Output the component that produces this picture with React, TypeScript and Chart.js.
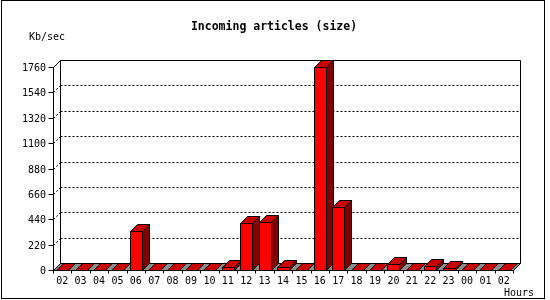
import React, { useEffect, useRef } from "react";
import { Chart, registerables } from "chart.js";

Chart.register(...registerables);

// ---- data ----
const hours = ["02", "03", "04", "05", "06", "07", "08", "09", "10", "11", "12", "13", "14", "15", "16", "17", "18", "19", "20", "21", "22", "23", "00", "01", "02"];
const kbPerSec = [0, 0, 0, 0, 335, 0, 0, 0, 0, 25, 405, 416, 25, 0, 1758, 543, 0, 0, 49, 0, 35, 17, 0, 0, 0];
const yTicks = [0, 220, 440, 660, 880, 1100, 1320, 1540, 1760];
const titleText = "Incoming articles (size)";
const yUnit = "Kb/sec";
const xUnit = "Hours";

const DX = 7;
const DY = -7;

const FRONT = "#ff0000";
const TOP = "#c80000";
const SIDE = "#800000";
const FLOOR = "#8c8c8c";

function poly(ctx: CanvasRenderingContext2D, pts: number[][], fill: string) {
  ctx.beginPath();
  ctx.moveTo(pts[0][0] + 0.5, pts[0][1] + 0.5);
  for (let i = 1; i < pts.length; i++) ctx.lineTo(pts[i][0] + 0.5, pts[i][1] + 0.5);
  ctx.closePath();
  ctx.fillStyle = fill;
  ctx.fill();
  ctx.stroke();
}

function line(ctx: CanvasRenderingContext2D, x0: number, y0: number, x1: number, y1: number) {
  ctx.beginPath();
  ctx.moveTo(x0 + 0.5, y0 + 0.5);
  ctx.lineTo(x1 + 0.5, y1 + 0.5);
  ctx.stroke();
}

const threeD = {
  id: "threeD",
  beforeDraw(chart: any) {
    const ctx: CanvasRenderingContext2D = chart.ctx;
    ctx.save();
    ctx.fillStyle = "#ffffff";
    ctx.fillRect(0, 0, chart.width, chart.height);
    ctx.strokeStyle = "#000";
    ctx.lineWidth = 1;
    ctx.strokeRect(1.5, 0.5, 543, 298);
    ctx.restore();
  },
  beforeDatasetsDraw(chart: any) {
    const ctx: CanvasRenderingContext2D = chart.ctx;
    const a = chart.chartArea;
    const ys = chart.scales.y;
    const L = Math.round(a.left), R = Math.round(a.right);
    const T = Math.round(ys.getPixelForValue(yTicks[yTicks.length - 1]));
    const B = Math.round(ys.getPixelForValue(0));
    ctx.save();
    ctx.strokeStyle = "#000";
    ctx.lineWidth = 1;
    // gridlines on back wall
    ctx.setLineDash([2, 2]);
    for (const v of yTicks) {
      if (v === 0 || v === yTicks[yTicks.length - 1]) continue;
      const y = Math.round(ys.getPixelForValue(v));
      line(ctx, L + DX, y + DY, R + DX, y + DY);
      line(ctx, L, y, L + DX, y + DY);
    }
    ctx.setLineDash([]);
    // back wall frame
    line(ctx, L + DX, T + DY, R + DX, T + DY);
    line(ctx, R + DX, T + DY, R + DX, B + DY);
    line(ctx, L + DX, T + DY, L + DX, B + DY);
    line(ctx, L, T, L + DX, T + DY);
    // floor
    poly(ctx, [[L, B], [R, B], [R + DX, B + DY], [L + DX, B + DY]], FLOOR);
    ctx.restore();
  },
  afterDatasetsDraw(chart: any) {
    const ctx: CanvasRenderingContext2D = chart.ctx;
    const a = chart.chartArea;
    const ys = chart.scales.y;
    const xs = chart.scales.x;
    const L = Math.round(a.left), R = Math.round(a.right);
    const T = Math.round(ys.getPixelForValue(yTicks[yTicks.length - 1]));
    const B = Math.round(ys.getPixelForValue(0));
    const meta = chart.getDatasetMeta(0);
    ctx.save();
    ctx.strokeStyle = "#000";
    ctx.lineWidth = 1;
    // bars
    meta.data.forEach((el: any) => {
      const x0 = Math.round(el.x - el.width / 2);
      const x1 = Math.round(el.x + el.width / 2);
      const yv = Math.round(el.y);
      const yb = Math.round(el.base);
      if (yb - yv > 0) {
        poly(ctx, [[x1, yv], [x1 + DX, yv + DY], [x1 + DX, yb + DY], [x1, yb]], SIDE);
      }
      poly(ctx, [[x0, yv], [x1, yv], [x1 + DX, yv + DY], [x0 + DX, yv + DY]], TOP);
      if (yb - yv > 0) {
        poly(ctx, [[x0, yv], [x1, yv], [x1, yb], [x0, yb]], FRONT);
      }
    });
    // front axes
    line(ctx, L, T, L, B);
    line(ctx, L, B, R, B);
    // y ticks + labels
    ctx.fillStyle = "#000";
    ctx.font = "10px 'DejaVu Sans Mono'";
    ctx.textAlign = "right";
    ctx.textBaseline = "middle";
    for (const v of yTicks) {
      const y = Math.round(ys.getPixelForValue(v));
      line(ctx, L - 5, y, L, y);
      ctx.fillText(String(v), L - 7, y + 1);
    }
    // x ticks + labels
    const n = hours.length;
    const w = (R - L) / n;
    for (let i = 0; i <= n; i++) {
      const x = Math.round(L + i * w);
      line(ctx, x, B, x, B + 3);
    }
    ctx.textAlign = "center";
    hours.forEach((h, i) => {
      const x = xs.getPixelForValue(i);
      ctx.fillText(h, x, B + 11);
    });
    // unit labels
    ctx.textAlign = "left";
    ctx.fillText(yUnit, 29, 37);
    ctx.fillText(xUnit, 504, 293);
    // title
    ctx.font = "bold 11.5px 'DejaVu Sans Mono'";
    ctx.textAlign = "center";
    ctx.fillText(titleText, 274, 27);
    ctx.restore();
  },
};

export default function App() {
  const ref = useRef<HTMLCanvasElement | null>(null);
  useEffect(() => {
    document.body.style.margin = "0";
    const canvas = ref.current;
    if (!canvas) return;
    const chart = new Chart(canvas, {
      type: "bar",
      data: {
        labels: hours,
        datasets: [
          {
            label: titleText,
            data: kbPerSec,
            backgroundColor: "rgba(0,0,0,0)",
            borderWidth: 0,
            barPercentage: 0.65,
            categoryPercentage: 1,
          },
        ],
      },
      options: {
        responsive: false,
        animation: false,
        devicePixelRatio: 1,
        layout: { padding: { left: 53, right: 37, top: 67, bottom: 30 } },
        scales: {
          x: { display: false },
          y: { display: false, min: 0, max: 1760 },
        },
        plugins: {
          legend: { display: false },
          title: { display: false },
          tooltip: { enabled: false },
        },
      },
      plugins: [threeD],
    });
    return () => chart.destroy();
  }, []);
  return (
    <div style={{ width: 550, height: 300 }}>
      <canvas ref={ref} width={550} height={300} style={{ display: "block" }} />
    </div>
  );
}
